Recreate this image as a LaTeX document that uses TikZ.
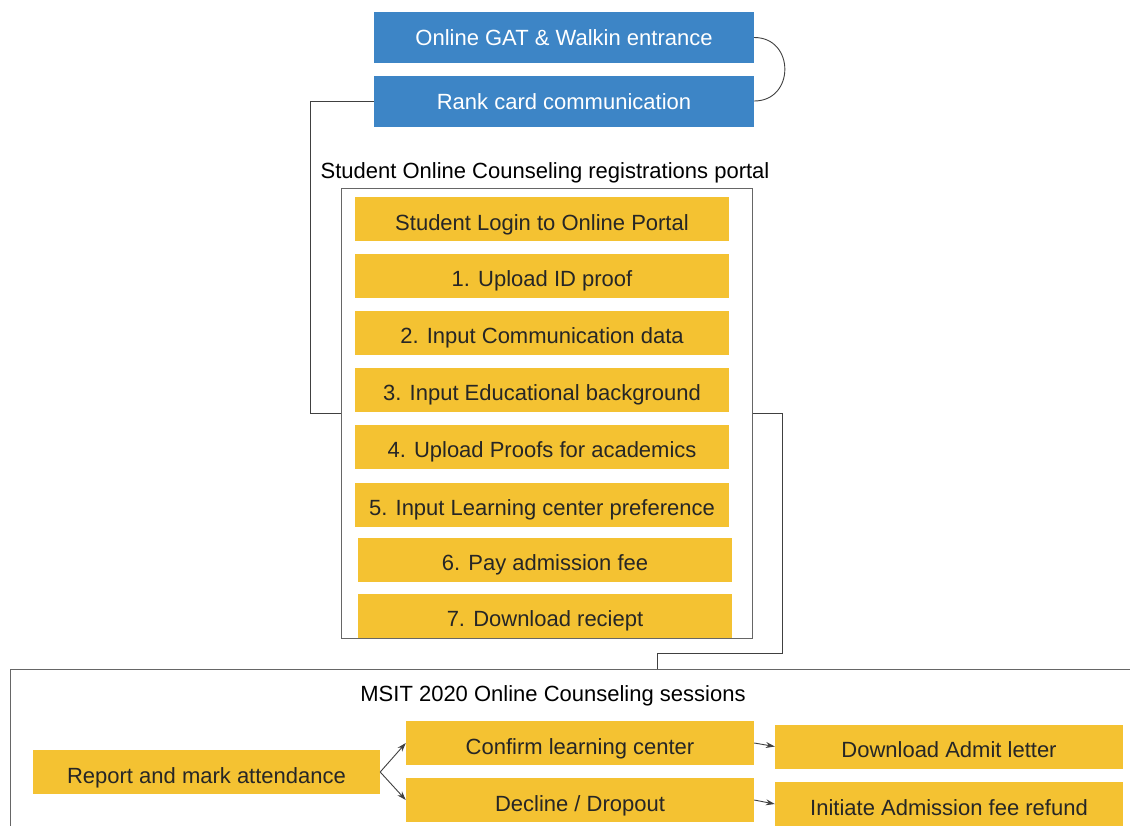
\documentclass[tikz,border=0pt]{standalone}
\usepackage{fontspec}
\setmainfont{Liberation Sans}
\usetikzlibrary{arrows.meta}
\definecolor{gblue}{HTML}{3D85C6}
\definecolor{gyellow}{HTML}{F4C232}
\definecolor{lgray}{HTML}{666666}
\begin{document}
\begin{tikzpicture}[x=1pt,y=-1pt,
  font=\fontsize{22}{26}\selectfont,
  bluebox/.style={fill=gblue,text=white,minimum width=380pt,minimum height=51pt,inner sep=0pt,text height=16pt,text depth=0pt},
  ybox/.style={fill=gyellow,text=black!85,minimum width=374pt,minimum height=44pt,inner sep=0pt,text height=22pt,text depth=0pt},
  sbox/.style={ybox,minimum width=348pt},
  panel/.style={draw=lgray,line width=1pt,inner sep=0pt},
  link/.style={draw=black!75,line width=0.9pt},
  >={Stealth[length=9pt,width=6pt]}]
\clip (0,0) rectangle (1130,825);
% entrance
\node[bluebox] (gat) at (564,37.5) {Online GAT \& Walkin entrance};
\node[bluebox] (rank) at (564,101) {Rank card communication};
% registration portal
\node[anchor=base] (ptitle) at (545,178) {Student Online Counseling registrations portal};
\node[panel,minimum width=411pt,minimum height=450pt] (portal) at (546.5,413) {};
\node[ybox] (login) at (542,219) {Student Login to Online Portal};
\node[ybox] (idp) at (542,275.5) {1. Upload ID proof};
\node[ybox] (comm) at (542,332.5) {2. Input Communication data};
\node[ybox] (edu) at (542,389.5) {3. Input Educational background};
\node[ybox] (acad) at (542,446.5) {4. Upload Proofs for academics};
\node[ybox] (pref) at (542,504.5) {5. Input Learning center preference};
\node[ybox] (fee) at (545,559.5) {6. Pay admission fee};
\node[ybox] (rcpt) at (545,615.5) {7. Download reciept};
% counseling sessions
\node[panel,anchor=north west,minimum width=1150pt,minimum height=200pt] (msit) at (10,669) {};
\coordinate (drop) at (657,669);
\node[anchor=base] (mtitle) at (553,701) {MSIT 2020 Online Counseling sessions};
\node[sbox,minimum width=347pt] (att) at (206.5,772) {Report and mark attendance};
\node[sbox] (conf) at (580,743) {Confirm learning center};
\node[sbox] (quit) at (580,800) {Decline / Dropout};
\node[sbox] (admit) at (949,746.5) {Download Admit letter};
\node[sbox] (refund) at (949,804) {Initiate Admission fee refund};
% connectors
\draw[link] (gat.east) to[out=0,in=0,looseness=1.65] (rank.east);
\draw[link] (rank.west) -- ++(-63,0) |- (portal.west);
\draw[link] (portal.east) -- ++(30,0) -- ++(0,240) -| (drop);
\draw[link,->] (att.east) -- (conf.west);
\draw[link,->] (att.east) -- (quit.west);
\draw[link,->] (conf.east) -- (admit.west);
\draw[link,->] (quit.east) -- (refund.west);
\end{tikzpicture}
\end{document}
